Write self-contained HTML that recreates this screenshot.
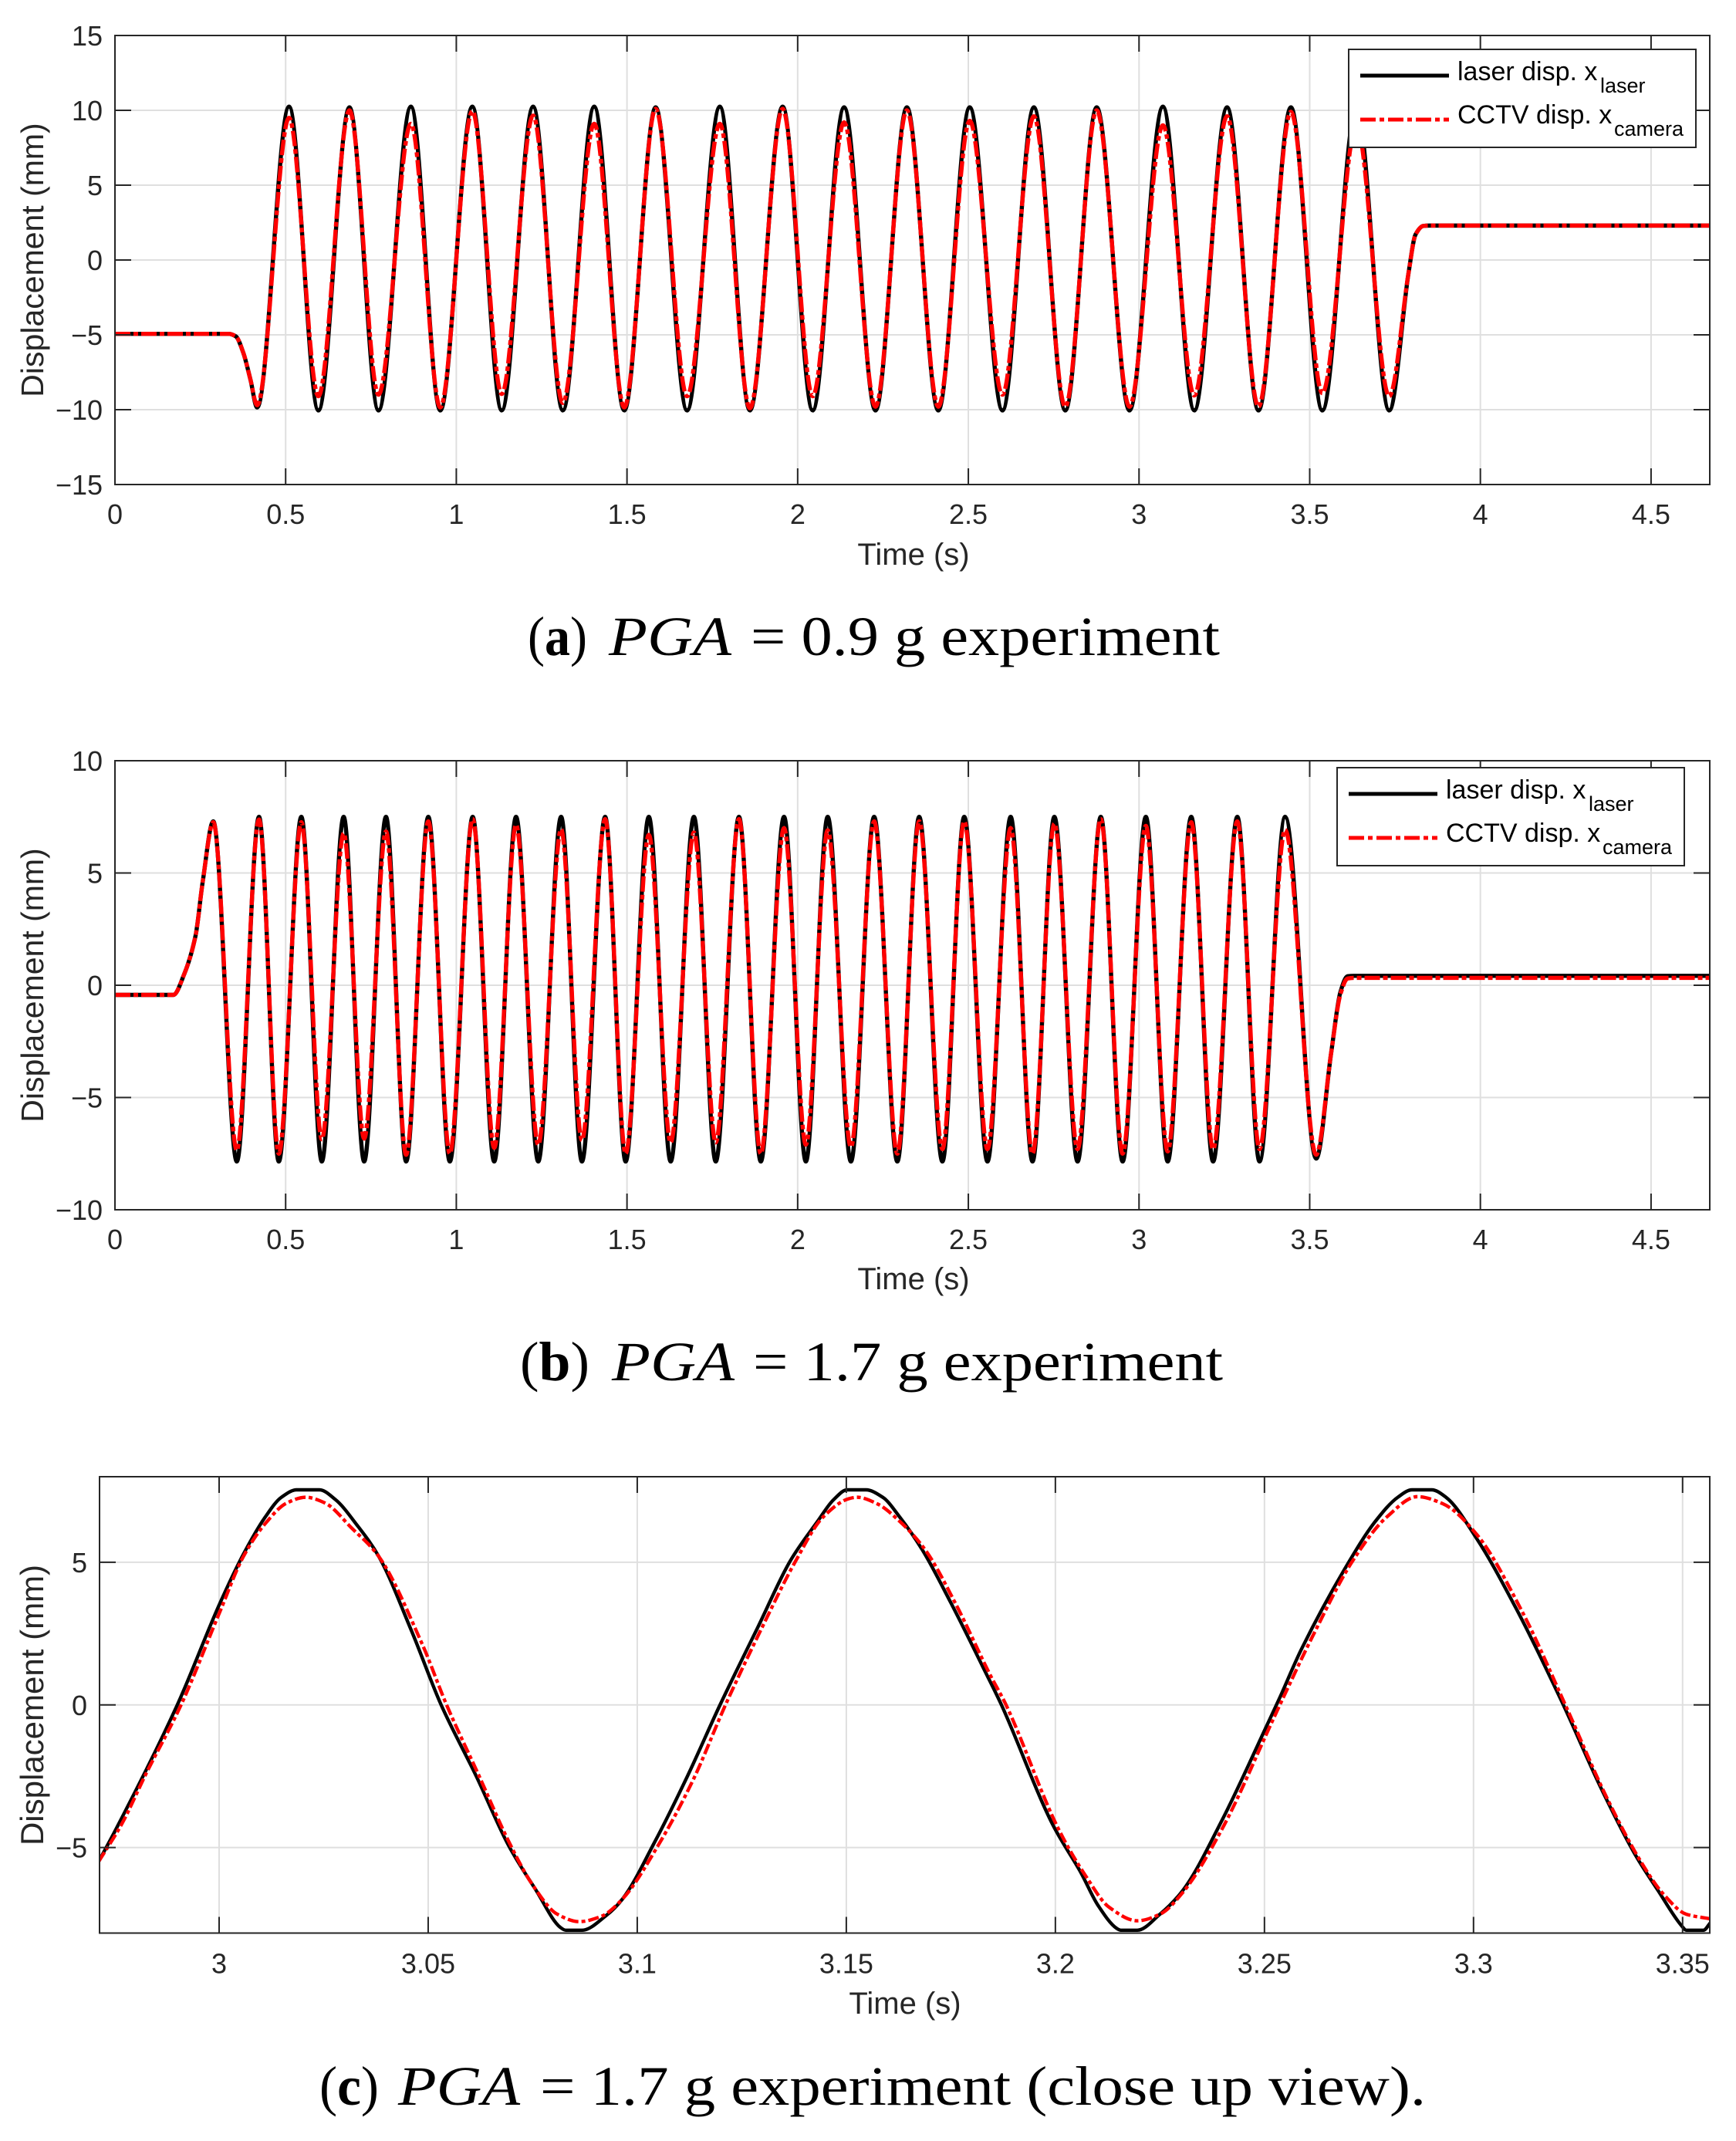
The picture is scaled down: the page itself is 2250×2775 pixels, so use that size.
<!DOCTYPE html>
<html lang="en">
<head>
<meta charset="utf-8">
<title>Displacement experiments</title>
<style>
html,body{margin:0;padding:0;background:#fff;}
svg{display:block;}
text{font-family:"Liberation Sans",sans-serif;}
.tick-label,.axis-title{fill:#262626;}
.axis-title{font-size:40px;}
.y-title{font-size:41px;}
.tick-label{font-size:36px;}
.legend-text{font-size:34px;fill:#000;}
.legend-sub{font-size:27px;fill:#000;}
.caption{font-family:"Liberation Serif",serif;font-size:72px;fill:#000;}
</style>
</head>
<body>
<svg id="figure" xmlns="http://www.w3.org/2000/svg" width="2250" height="2775" viewBox="0 0 2250 2775">
  <rect width="2250" height="2775" fill="#fff"/>

  <g id="panel-a"></g>
  <g>
    <rect x="1748" y="64" width="450" height="127" fill="#fff" stroke="#262626" stroke-width="2"/>
    <line x1="1763" x2="1878" y1="98" y2="98" stroke="#000" stroke-width="5"/>
    <text class="legend-text" x="1889" y="104">laser disp. x</text>
    <text class="legend-sub" x="2074" y="120">laser</text>
    <line x1="1763" x2="1878" y1="155" y2="155" stroke="#f00" stroke-width="5" stroke-dasharray="20 5 6 5"/>
    <text class="legend-text" x="1889" y="160">CCTV disp. x</text>
    <text class="legend-sub" x="2092" y="176">camera</text>
  </g>
  <text class="axis-title y-title" text-anchor="middle" transform="translate(56,337) rotate(-90)">Displacement (mm)</text>
  <text class="axis-title" text-anchor="middle" x="1184" y="732">Time (s)</text>
  <text class="caption" x="684" y="849" textLength="77" lengthAdjust="spacingAndGlyphs">(<tspan font-weight="bold">a</tspan>)</text>
  <text class="caption" x="789" y="849" font-style="italic" textLength="159" lengthAdjust="spacingAndGlyphs">PGA</text>
  <text class="caption" x="973" y="849" textLength="608" lengthAdjust="spacingAndGlyphs">= 0.9 g experiment</text>

  <g id="panel-b"></g>
  <g>
    <rect x="1733" y="995" width="450" height="127" fill="#fff" stroke="#262626" stroke-width="2"/>
    <line x1="1748" x2="1863" y1="1029" y2="1029" stroke="#000" stroke-width="5"/>
    <text class="legend-text" x="1874" y="1035">laser disp. x</text>
    <text class="legend-sub" x="2059" y="1051">laser</text>
    <line x1="1748" x2="1863" y1="1086" y2="1086" stroke="#f00" stroke-width="5" stroke-dasharray="20 5 6 5"/>
    <text class="legend-text" x="1874" y="1091">CCTV disp. x</text>
    <text class="legend-sub" x="2077" y="1107">camera</text>
  </g>
  <text class="axis-title y-title" text-anchor="middle" transform="translate(56,1277) rotate(-90)">Displacement (mm)</text>
  <text class="axis-title" text-anchor="middle" x="1184" y="1671">Time (s)</text>
  <text class="caption" x="674" y="1789" textLength="90" lengthAdjust="spacingAndGlyphs">(<tspan font-weight="bold">b</tspan>)</text>
  <text class="caption" x="793" y="1789" font-style="italic" textLength="159" lengthAdjust="spacingAndGlyphs">PGA</text>
  <text class="caption" x="976" y="1789" textLength="609" lengthAdjust="spacingAndGlyphs">= 1.7 g experiment</text>

  <g id="panel-c"></g>
  <text class="axis-title" style="font-size:42px" text-anchor="middle" transform="translate(56,2210) rotate(-90)">Displacement (mm)</text>
  <text class="axis-title" text-anchor="middle" x="1173" y="2610">Time (s)</text>
  <text class="caption" x="414" y="2728" textLength="77" lengthAdjust="spacingAndGlyphs">(<tspan font-weight="bold">c</tspan>)</text>
  <text class="caption" x="516" y="2728" font-style="italic" textLength="158" lengthAdjust="spacingAndGlyphs">PGA</text>
  <text class="caption" x="700" y="2728" textLength="1148" lengthAdjust="spacingAndGlyphs">= 1.7 g experiment (close up view).</text>
</svg>

<script>
// ---------- Panel (a): PGA = 0.9 g ----------
const aTimes = [0,0.333,0.354,0.376,0.397,0.4165,0.510,0.596,0.687,0.772,0.867,0.953,1.047,1.133,1.225,1.312,1.404,1.492,1.584,1.676,1.772,1.860,1.956,2.044,2.136,2.228,2.320,2.412,2.504,2.600,2.692,2.784,2.876,2.972,3.070,3.162,3.258,3.350,3.445,3.537,3.637,3.733,3.790,3.810,3.833,3.850,4.672];
const aLaser = [-4.93,-4.93,-5.1,-6.2,-8.0,-9.85,10.25,-10.05,10.2,-10.05,10.25,-10.05,10.25,-10.05,10.25,-10.05,10.25,-10.05,10.2,-10.05,10.25,-10.05,10.25,-10.05,10.2,-10.05,10.2,-10.05,10.2,-10.05,10.2,-10.05,10.2,-10.05,10.25,-10.05,10.2,-10.05,10.2,-10.05,10.2,-10.05,-0.8,1.7,2.28,2.3,2.3];
const aCamera = [-4.93,-4.93,-5.1,-6.2,-8.0,-9.7,9.5,-9.1,10,-9.0,9.1,-9.85,9.95,-8.95,9.65,-9.55,9.1,-9.85,10.1,-9.1,9.1,-9.9,10.1,-9.1,9.2,-9.8,10,-9.8,9.3,-9.0,9.6,-9.8,10,-9.8,9.0,-9.05,9.6,-9.8,9.9,-8.9,9.0,-9.1,-0.8,1.7,2.28,2.3,2.3];
const aXTicks = [0,0.5,1,1.5,2,2.5,3,3.5,4,4.5];
const aXTickLabels = ['0','0.5','1','1.5','2','2.5','3','3.5','4','4.5'];
const aYTicks = [15,10,5,0,-5,-10,-15];
const aYTickLabels = ['15','10','5','0','\u22125','\u221210','\u221215'];

// ---------- Panel (b): PGA = 1.7 g ----------
const bTimes = [0,0.171,0.203,0.236,0.257,0.288,0.357,0.422,0.480,0.546,0.606,0.670,0.730,0.794,0.853,0.918,0.981,1.048,1.111,1.175,1.240,1.307,1.368,1.436,1.496,1.564,1.628,1.696,1.760,1.828,1.892,1.960,2.024,2.088,2.156,2.224,2.292,2.356,2.424,2.488,2.556,2.624,2.688,2.752,2.820,2.888,2.952,3.020,3.084,3.153,3.217,3.288,3.353,3.428,3.519,3.563,3.590,3.611,3.630,4.672];
const bLaser = [-0.43,-0.43,0.5,2.2,4.6,7.3,-7.85,7.5,-7.85,7.5,-7.85,7.5,-7.85,7.5,-7.85,7.5,-7.85,7.5,-7.85,7.5,-7.85,7.5,-7.85,7.5,-7.85,7.5,-7.85,7.5,-7.85,7.5,-7.85,7.5,-7.85,7.5,-7.85,7.5,-7.85,7.5,-7.85,7.5,-7.85,7.5,-7.85,7.5,-7.85,7.5,-7.85,7.5,-7.85,7.5,-7.85,7.5,-7.85,7.5,-7.72,-3.0,-0.3,0.4,0.42,0.42];
const bCamera = [-0.43,-0.43,0.5,2.2,4.6,7.26,-7.35,7.38,-7.5,7.26,-6.86,6.77,-6.83,6.85,-7.55,7.3,-7.5,7.4,-7.24,7.15,-7.1,6.95,-6.9,7.4,-7.5,6.7,-7.0,6.8,-7.0,7.4,-7.5,7.0,-7.1,6.9,-7.2,7.3,-7.5,7.3,-7.3,7.3,-7.3,7.0,-7.5,7.2,-7.3,7.4,-7.5,7.1,-7.4,7.26,-7.3,7.3,-7.3,6.92,-7.55,-3.0,-0.4,0.3,0.33,0.33];
const bXTicks = [0,0.5,1,1.5,2,2.5,3,3.5,4,4.5];
const bXTickLabels = ['0','0.5','1','1.5','2','2.5','3','3.5','4','4.5'];
const bYTicks = [10,5,0,-5,-10];
const bYTickLabels = ['10','5','0','\u22125','\u221210'];

// ---------- Panel (c): close-up ----------
const cLaserTimes = [2.9712,2.9754,2.9900,3.0000,3.0058,3.0110,3.0149,3.0185,3.0240,3.0278,3.0330,3.0382,3.0460,3.0531,3.0615,3.0693,3.0758,3.0816,3.0829,3.0868,3.0926,3.0965,3.1042,3.1120,3.1198,3.1289,3.1366,3.1431,3.1470,3.1502,3.1547,3.1587,3.1628,3.1682,3.1750,3.1831,3.1871,3.1993,3.2061,3.2102,3.2146,3.2156,3.2196,3.2250,3.2305,3.2399,3.2508,3.2535,3.2589,3.2697,3.2765,3.2819,3.2853,3.2900,3.2934,3.3008,3.3103,3.3211,3.3306,3.3387,3.3441,3.3498,3.3509,3.3550,3.3566];
const cLaser = [-5.49,-4.34,0,3.5,5.28,6.58,7.28,7.54,7.54,7.2,6.3,5.2,2.6,0,-2.5,-4.95,-6.5,-7.8,-7.9,-7.9,-7.38,-6.8,-4.8,-2.5,0,2.74,5.05,6.43,7.2,7.54,7.54,7.28,6.58,5.43,3.58,1.2,0,-4.18,-5.88,-7.03,-7.83,-7.9,-7.9,-7.34,-6.5,-4.03,-0.65,0.2,1.97,4.89,6.43,7.28,7.54,7.54,7.28,5.82,3.35,0.12,-2.95,-5.26,-6.5,-7.75,-7.9,-7.9,-7.65];
const cCameraTimes = [2.9712,2.9767,2.9825,2.9909,3.0000,3.0058,3.0110,3.0162,3.0207,3.0253,3.0317,3.0382,3.0486,3.0544,3.0622,3.0693,3.0751,3.0809,3.0861,3.0913,3.0965,3.1049,3.1133,3.1211,3.1302,3.1379,3.1444,3.1506,3.1526,3.1574,3.1628,3.1689,3.1763,3.1844,3.1882,3.2007,3.2074,3.2129,3.2196,3.2250,3.2305,3.2399,3.2521,3.2548,3.2616,3.2711,3.2792,3.2866,3.2927,3.3008,3.3116,3.3218,3.3319,3.3400,3.3455,3.3509,3.3566];
const cCamera = [-5.49,-4.18,-2.42,0,3.2,5.2,6.35,7.08,7.28,7.08,6.2,5.2,2.12,0,-2.5,-4.8,-6.34,-7.34,-7.6,-7.42,-6.8,-4.95,-2.65,0,2.82,5.05,6.58,7.23,7.28,7.05,6.43,5.43,3.5,1.05,0,-4.34,-6.03,-7.1,-7.57,-7.34,-6.57,-4.34,-0.5,0.35,2.43,5.05,6.58,7.3,7.05,5.97,3.28,0.05,-3.26,-5.49,-6.65,-7.34,-7.5];
const cXTicks = [3,3.05,3.1,3.15,3.2,3.25,3.3,3.35];
const cXTickLabels = ['3','3.05','3.1','3.15','3.2','3.25','3.3','3.35'];
const cYTicks = [5,0,-5];
const cYTickLabels = ['5','0','\u22125'];

const SVG_NS = 'http://www.w3.org/2000/svg';

function make(tag, parent, attrs) {
  const node = document.createElementNS(SVG_NS, tag);
  for (const key in attrs) node.setAttribute(key, attrs[key]);
  parent.appendChild(node);
  return node;
}

// Monotone cubic path through the read points (flat tangent at every peak and trough).
function curvePath(times, values, xScale, yScale) {
  const xs = times.map(xScale);
  const ys = values.map(yScale);
  const n = xs.length;
  const secants = [];
  for (let i = 0; i < n - 1; i++) secants.push((ys[i + 1] - ys[i]) / (xs[i + 1] - xs[i]));
  const slopes = [secants[0]];
  for (let i = 1; i < n - 1; i++) {
    const a = secants[i - 1];
    const b = secants[i];
    slopes.push(a * b <= 0 ? 0 : 2 * a * b / (a + b));
  }
  slopes.push(secants[n - 2]);
  let d = 'M' + xs[0].toFixed(2) + ' ' + ys[0].toFixed(2);
  for (let i = 0; i < n - 1; i++) {
    const h = (xs[i + 1] - xs[i]) / 3;
    d += 'C' + (xs[i] + h).toFixed(2) + ' ' + (ys[i] + slopes[i] * h).toFixed(2) + ' ' +
         (xs[i + 1] - h).toFixed(2) + ' ' + (ys[i + 1] - slopes[i + 1] * h).toFixed(2) + ' ' +
         xs[i + 1].toFixed(2) + ' ' + ys[i + 1].toFixed(2);
  }
  return d;
}

function drawPanel(opts) {
  const root = document.getElementById(opts.id);
  const L = opts.left, R = opts.right, T = opts.top, B = opts.bottom;
  const xScale = t => L + (t - opts.xMin) / (opts.xMax - opts.xMin) * (R - L);
  const yScale = v => B - (v - opts.yMin) / (opts.yMax - opts.yMin) * (B - T);
  const TICK = 21;

  const defs = make('defs', root, {});
  const clip = make('clipPath', defs, { id: opts.id + '-clip' });
  make('rect', clip, { x: L, y: T, width: R - L, height: B - T });

  opts.xTicks.forEach(t => {
    const x = xScale(t);
    const grid = make('line', root, { x1: x, x2: x, y1: T, y2: B, stroke: '#dfdfdf', 'stroke-width': 2 });
    
    
  });
  opts.yTicks.forEach(v => {
    if (v <= opts.yMin || v >= opts.yMax) return;
    const y = yScale(v);
    const grid = make('line', root, { x1: L, x2: R, y1: y, y2: y, stroke: '#dfdfdf', 'stroke-width': 2 });
    
    
  });

  const laser = make('path', root, {
    d: curvePath(opts.laserTimes, opts.laser, xScale, yScale),
    fill: 'none', stroke: '#000', 'stroke-width': opts.lineWidth,
    'stroke-linejoin': 'round', 'clip-path': 'url(#' + opts.id + '-clip)'
  });
  
  

  const camera = make('path', root, {
    d: curvePath(opts.cameraTimes, opts.camera, xScale, yScale),
    fill: 'none', stroke: '#f00', 'stroke-width': opts.cameraWidth,
    'stroke-dasharray': opts.dash, 'stroke-linejoin': 'round',
    'clip-path': 'url(#' + opts.id + '-clip)'
  });
  
  

  opts.xTicks.forEach((t, i) => {
    const x = xScale(t);
    const top = make('line', root, { x1: x, x2: x, y1: T, y2: T + TICK, stroke: '#262626', 'stroke-width': 2 });
    
    
    const bottom = make('line', root, { x1: x, x2: x, y1: B, y2: B - TICK, stroke: '#262626', 'stroke-width': 2 });
    
    
    const label = make('text', root, { x: x, y: B + opts.xLabelGap, 'text-anchor': 'middle', class: 'tick-label' });
    
    
    label.textContent = opts.xLabels[i];
  });
  opts.yTicks.forEach((v, i) => {
    const y = yScale(v);
    if (v > opts.yMin && v < opts.yMax) {
      const left = make('line', root, { x1: L, x2: L + TICK, y1: y, y2: y, stroke: '#262626', 'stroke-width': 2 });
      
      
      const right = make('line', root, { x1: R, x2: R - TICK, y1: y, y2: y, stroke: '#262626', 'stroke-width': 2 });
      
      
    }
    const label = make('text', root, { x: L - 16, y: y + 13, 'text-anchor': 'end', class: 'tick-label' });
    
    
    label.textContent = opts.yLabels[i];
  });

  const frame = make('rect', root, { x: L, y: T, width: R - L, height: B - T, fill: 'none', stroke: '#262626', 'stroke-width': 2 });
  
  
}

drawPanel({
  id: 'panel-a', left: 149, right: 2216, top: 46, bottom: 628,
  xMin: 0, xMax: 4.672, yMin: -15, yMax: 15,
  xTicks: aXTicks, xLabels: aXTickLabels, yTicks: aYTicks, yLabels: aYTickLabels,
  laserTimes: aTimes, laser: aLaser, cameraTimes: aTimes, camera: aCamera,
  lineWidth: 5.4, cameraWidth: 5.4, dash: '20 4 6 4', xLabelGap: 51
});
drawPanel({
  id: 'panel-b', left: 149, right: 2216, top: 986, bottom: 1568,
  xMin: 0, xMax: 4.672, yMin: -10, yMax: 10,
  xTicks: bXTicks, xLabels: bXTickLabels, yTicks: bYTicks, yLabels: bYTickLabels,
  laserTimes: bTimes, laser: bLaser, cameraTimes: bTimes, camera: bCamera,
  lineWidth: 5.4, cameraWidth: 5.4, dash: '20 4 6 4', xLabelGap: 51
});
drawPanel({
  id: 'panel-c', left: 129, right: 2216, top: 1914, bottom: 2505.5,
  xMin: 2.9714, xMax: 3.3565, yMin: -8, yMax: 8,
  xTicks: cXTicks, xLabels: cXTickLabels, yTicks: cYTicks, yLabels: cYTickLabels,
  laserTimes: cLaserTimes, laser: cLaser, cameraTimes: cCameraTimes, camera: cCamera,
  lineWidth: 4.4, cameraWidth: 4.4, dash: '14 4 5 4', xLabelGap: 52
});
</script>
</body>
</html>
